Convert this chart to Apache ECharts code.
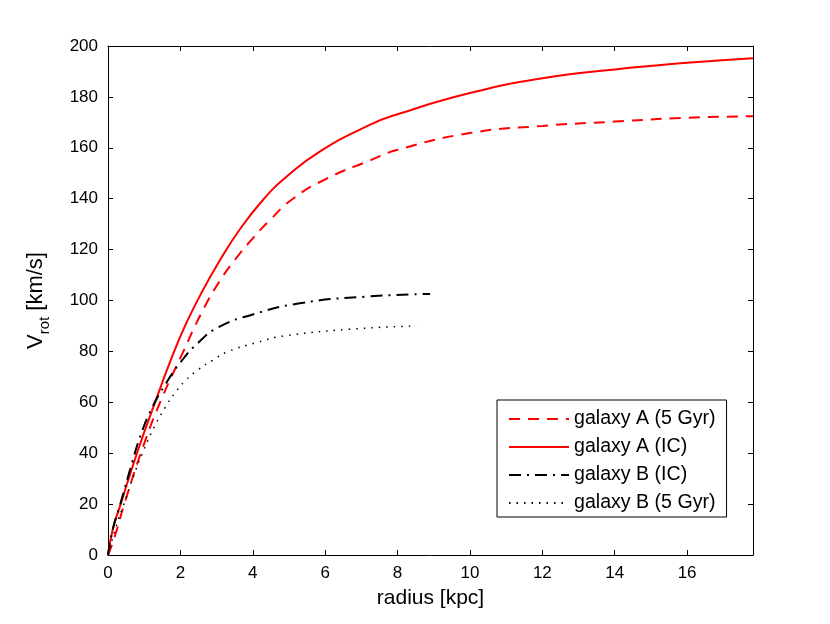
<!DOCTYPE html>
<html>
<head>
<meta charset="utf-8">
<script src="https://cdn.jsdelivr.net/npm/echarts@6/dist/echarts.min.js"></script>
<style>html,body{margin:0;padding:0;background:#fff}#c{width:830px;height:624px}</style>
</head>
<body>
<div id="c"></div>
<script>
// radius [kpc], V_rot [km/s]
const galaxyA_5Gyr = [[0,0],[0.18,7],[0.45,20],[0.98,43],[1.5,62],[2.05,79],[2.58,95],[3.08,107.5],[3.54,116.6],[4.0,124.4],[4.46,131.4],[5.11,140],[6.03,147.8],[7.23,155],[8,159.2],[10,165.8],[12,168.6],[14,170.3],[16,171.8],[17.82,172.4]];
const galaxyA_IC = [[0,0],[0.13,10],[0.35,20],[0.8,40],[1.3,60],[1.8,79],[2.16,91],[2.62,104],[3.08,115.5],[3.63,127.7],[4.28,139.5],[4.93,148.6],[5.85,158.5],[7.23,169],[8,173.2],[10,181.5],[12,187.3],[14,190.8],[16,193.4],[17.82,195.2]];
const galaxyB_IC = [[0,0],[0.13,10],[0.34,20],[0.68,37],[0.92,47.8],[1.19,57],[1.56,66.5],[2.02,76],[2.5,83.5],[3.05,89.5],[4.0,94.5],[5.3,98.9],[7.1,101.5],[8.9,102.6]];
const galaxyB_5Gyr = [[0,0],[0.22,11],[0.45,20.4],[0.73,32],[0.99,41.3],[1.28,50.4],[1.65,59.6],[1.84,63.5],[2.11,68.1],[2.48,72.7],[2.9,76.6],[3.31,79.9],[4.14,83.6],[4.83,86],[6.68,88.7],[8.52,90]];
const xTicks = [0,2,4,6,8,10,12,14,16];
const xMax = 17.82;
const yTicks = [0,20,40,60,80,100,120,140,160,180,200];

const font = 'Liberation Sans, Arial, Helvetica, sans-serif';
const lineAx = {show: true, onZero: false, lineStyle: {color: '#000', width: 1}};
const chart = echarts.init(document.getElementById('c'));
chart.setOption({
  backgroundColor: '#fff',
  animation: false,
  grid: {left: 108, right: 77, top: 46, bottom: 69, containLabel: false},
  xAxis: [
    {
      type: 'value', min: 0, max: xMax, position: 'bottom',
      name: 'radius [kpc]', nameLocation: 'middle', nameGap: 33,
      nameTextStyle: {fontFamily: font, fontSize: 21, color: '#000'},
      axisLine: lineAx, splitLine: {show: false},
      axisTick: {show: true, inside: true, length: 5, lineStyle: {color: '#000'}, customValues: xTicks},
      axisLabel: {fontFamily: font, fontSize: 17, color: '#000', margin: 10, customValues: xTicks}
    },
    {
      type: 'value', min: 0, max: xMax, position: 'top',
      axisLine: lineAx, splitLine: {show: false},
      axisTick: {show: true, inside: true, length: 5, lineStyle: {color: '#000'}, customValues: xTicks},
      axisLabel: {show: false}
    }
  ],
  yAxis: [
    {
      type: 'value', min: 0, max: 200, position: 'left',
      name: '{v|V}{s|rot}{v| [km/s]}', nameLocation: 'middle', nameGap: 56,
      nameTextStyle: {fontFamily: font, color: '#000',
        rich: {
          v: {fontFamily: font, fontSize: 22, color: '#000', lineHeight: 32, verticalAlign: 'middle'},
          s: {fontFamily: font, fontSize: 15, color: '#000', lineHeight: 32, verticalAlign: 'bottom', padding: [12,0,0,0]}
        }},
      axisLine: lineAx, splitLine: {show: false},
      axisTick: {show: true, inside: true, length: 5, lineStyle: {color: '#000'}, customValues: yTicks},
      axisLabel: {fontFamily: font, fontSize: 17, color: '#000', margin: 10, customValues: yTicks}
    },
    {
      type: 'value', min: 0, max: 200, position: 'right',
      axisLine: lineAx, splitLine: {show: false},
      axisTick: {show: true, inside: true, length: 5, lineStyle: {color: '#000'}, customValues: yTicks},
      axisLabel: {show: false}
    }
  ],
  legend: {
    orient: 'vertical', left: 497, top: 400,
    backgroundColor: '#fff', borderColor: '#000', borderWidth: 1, borderRadius: 0,
    padding: [9, 11, 4, 11], itemGap: 8, itemWidth: 60, itemHeight: 14,
    itemStyle: {opacity: 0, borderWidth: 0},
    textStyle: {fontFamily: font, fontSize: 19.6, color: '#000', lineHeight: 20},
    data: ['galaxy A (5 Gyr)', 'galaxy A (IC)', 'galaxy B (IC)', 'galaxy B (5 Gyr)']
  },
  series: [
    {name: 'galaxy A (5 Gyr)', type: 'line', data: galaxyA_5Gyr, smooth: 0.5, symbol: 'none',
     lineStyle: {color: '#ff0000', width: 2, type: [11, 8]}, itemStyle: {color: '#ff0000'}},
    {name: 'galaxy A (IC)', type: 'line', data: galaxyA_IC, smooth: 0.5, symbol: 'none',
     lineStyle: {color: '#ff0000', width: 2, type: 'solid'}, itemStyle: {color: '#ff0000'}},
    {name: 'galaxy B (IC)', type: 'line', data: galaxyB_IC, smooth: 0.5, symbol: 'none',
     lineStyle: {color: '#000', width: 2, type: [12, 6, 2, 6]}, itemStyle: {color: '#000'}},
    {name: 'galaxy B (5 Gyr)', type: 'line', data: galaxyB_5Gyr, smooth: 0.5, symbol: 'none',
     lineStyle: {color: '#000', width: 1.5, type: [1.5, 6]}, itemStyle: {color: '#000'}}
  ]
});
</script>
</body>
</html>
